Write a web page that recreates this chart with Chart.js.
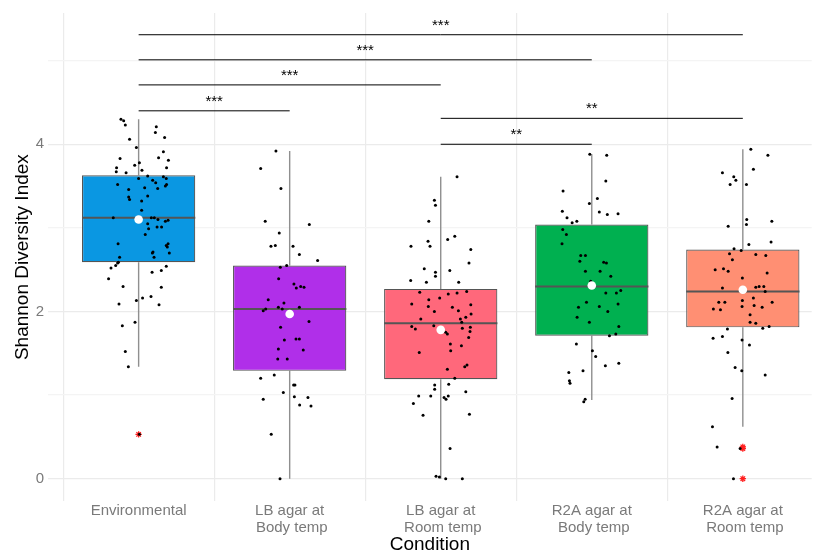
<!DOCTYPE html>
<html>
<head>
<meta charset="utf-8">
<script src="https://cdn.jsdelivr.net/npm/chart.js@4"></script>
<style>
  html, body { margin: 0; padding: 0; background: #fff; }
  #wrap { width: 817px; height: 552px; }
</style>
</head>
<body>
<div id="wrap"><canvas id="shannonChart"></canvas></div>
<script>
const categories = ["Environmental", "LB agar at Body temp", "LB agar at Room temp", "R2A agar at Body temp", "R2A agar at Room temp"];
const xLabels = [["Environmental"], ["LB agar at", " Body temp"], ["LB agar at", " Room temp"], ["R2A agar at", " Body temp"], ["R2A agar at", " Room temp"]];
const yTicks = [0, 1, 2, 3, 4, 5];

// box statistics
const whiskerLow = [1.34, 0.00, 0.00, 0.94, 0.62];
const lowerQ = [2.59, 1.29, 1.19, 1.71, 1.81];
const medians = [3.12, 2.03, 1.86, 2.30, 2.24];
const upperQ = [3.63, 2.55, 2.27, 3.04, 2.74];
const whiskerHigh = [4.30, 3.92, 3.61, 3.88, 3.94];
const means = [3.10, 1.97, 1.78, 2.31, 2.26];
const outliers = [[0.53], [], [], [], [0.38, 0.36, 0.00]];

// jittered samples (value, horizontal jitter in category units)
const envValues = [4.30,4.28,4.23,4.21,4.14,4.06,4.08,3.96,3.91,3.83,3.84,3.81,3.78,3.75,3.72,3.72,3.67,3.69,3.66,3.62,3.61,3.59,3.59,3.57,3.54,3.52,3.52,3.50,3.48,3.47,3.46,3.38,3.37,3.32,3.34,3.21,3.12,3.12,3.12,3.10,3.09,3.08,3.05,3.01,3.01,2.99,2.92,2.81,2.79,2.81,2.77,2.70,2.71,2.70,2.65,2.65,2.59,2.58,2.55,2.52,2.54,2.49,2.47,2.39,2.30,2.29,2.16,2.13,2.18,2.09,2.08,1.87,1.83,1.52,1.34,0.53];
const envJitter = [-0.117,-0.099,-0.088,0.117,0.111,-0.060,0.172,-0.015,0.164,-0.123,0.132,0.197,0.005,-0.026,-0.146,0.185,-0.148,0.022,-0.083,0.060,0.164,0.183,0.000,0.093,0.113,-0.139,0.185,0.177,0.040,0.126,-0.066,0.060,-0.066,0.020,-0.060,0.020,-0.168,0.084,0.104,0.128,0.195,0.177,0.060,0.122,0.152,0.066,0.044,-0.136,0.183,0.195,0.190,0.203,0.095,0.091,0.102,-0.126,-0.134,-0.139,-0.152,-0.183,0.183,0.150,0.089,-0.199,-0.103,0.150,0.026,-0.015,0.082,-0.130,0.135,-0.024,-0.108,-0.088,-0.068,0.005];

const lbBodyValues = [3.92,3.71,3.47,3.08,3.04,2.94,2.78,2.79,2.78,2.68,2.61,2.55,2.53,2.39,2.33,2.30,2.29,2.28,2.14,2.10,2.05,2.05,2.03,2.03,2.01,1.88,1.81,1.66,1.67,1.67,1.55,1.54,1.43,1.43,1.24,1.20,1.12,1.12,1.03,0.98,0.97,0.95,0.88,0.87,0.53,0.00];
const lbBodyJitter = [-0.091,-0.192,-0.058,-0.162,0.130,-0.069,-0.124,-0.095,0.022,0.064,0.185,-0.020,-0.062,-0.073,0.028,0.073,0.095,0.044,-0.142,-0.038,-0.075,0.064,-0.159,-0.049,-0.175,0.128,-0.060,-0.035,0.042,0.064,-0.075,0.090,-0.079,-0.016,-0.102,-0.192,0.026,0.035,-0.042,0.031,0.121,-0.175,0.066,0.141,-0.122,-0.064];

const lbRoomValues = [3.61,3.33,3.27,3.08,2.90,2.86,2.84,2.78,2.78,2.74,2.58,2.51,2.49,2.47,2.42,2.37,2.35,2.35,2.23,2.21,2.22,2.24,2.16,2.14,2.09,2.08,2.06,2.05,2.00,2.01,1.97,1.91,1.93,1.91,1.87,1.83,1.82,1.79,1.80,1.81,1.76,1.75,1.73,1.69,1.61,1.59,1.53,1.51,1.36,1.34,1.31,1.20,1.12,1.13,1.07,1.04,0.99,0.99,0.99,0.97,0.95,0.90,0.77,0.76,0.36,0.03,0.02,0.00,0.00];
const lbRoomJitter = [0.108,-0.042,-0.035,-0.079,0.093,0.046,-0.084,-0.197,-0.071,0.199,0.187,-0.109,0.060,-0.035,-0.035,-0.199,-0.095,0.119,-0.139,0.050,0.108,0.172,-0.007,-0.079,-0.192,0.199,-0.082,0.077,-0.042,0.117,0.201,-0.132,0.166,0.130,0.139,-0.046,-0.192,-0.168,0.143,0.196,0.194,0.033,0.044,0.185,0.064,0.137,0.066,-0.142,0.174,0.159,0.044,0.093,-0.040,0.053,-0.040,0.166,-0.146,-0.066,0.050,0.022,0.035,-0.181,0.190,-0.117,0.062,-0.031,-0.009,0.033,0.143];

const r2aBodyValues = [3.88,3.87,3.56,3.44,3.35,3.29,3.20,3.19,3.17,3.16,3.12,3.08,3.06,2.98,2.92,2.81,2.67,2.67,2.60,2.59,2.58,2.48,2.48,2.42,2.36,2.25,2.22,2.22,2.11,2.09,2.05,2.06,2.00,1.93,1.87,1.82,1.73,1.71,1.61,1.53,1.46,1.38,1.35,1.29,1.27,1.17,1.14,0.95,0.92];
const r2aBodyJitter = [-0.013,0.099,0.093,-0.190,0.037,-0.016,-0.195,0.050,0.174,0.103,-0.164,-0.099,-0.130,-0.192,-0.168,-0.197,-0.073,-0.042,-0.079,0.079,0.097,-0.042,0.055,0.126,-0.007,0.192,0.093,0.163,-0.035,0.174,-0.088,0.050,0.106,-0.097,-0.016,0.179,0.159,0.117,-0.102,0.004,0.026,0.179,0.090,-0.058,-0.152,-0.148,-0.144,-0.044,-0.053];

const r2aRoomValues = [3.94,3.87,3.70,3.66,3.61,3.57,3.52,3.52,3.10,3.08,3.04,3.02,2.83,2.80,2.75,2.73,2.69,2.68,2.67,2.62,2.50,2.51,2.48,2.46,2.40,2.28,2.29,2.30,2.30,2.24,2.13,2.16,2.11,2.11,2.11,2.06,2.07,2.05,2.03,2.02,1.96,1.87,1.86,1.82,1.80,1.79,1.68,1.70,1.66,1.60,1.51,1.33,1.29,1.24,0.96,0.62,0.38,0.36,0.00];
const r2aRoomJitter = [0.053,0.166,0.070,-0.135,-0.060,-0.046,-0.084,0.024,0.026,0.192,0.024,-0.097,0.187,0.040,-0.058,-0.011,-0.088,0.086,0.152,-0.069,-0.183,-0.128,-0.097,0.161,-0.003,-0.135,0.086,0.108,0.139,0.148,-0.003,0.070,-0.159,-0.119,0.194,-0.005,0.075,0.128,-0.195,-0.148,0.048,0.048,0.086,0.174,0.132,-0.102,-0.197,-0.135,-0.005,0.044,-0.099,-0.051,-0.007,0.148,-0.071,-0.201,-0.170,-0.018,-0.062];

// significance brackets
const bracketFrom = [0, 0, 0, 0, 2, 2];
const bracketTo = [4, 3, 2, 1, 4, 3];
const bracketY = [5.31, 5.01, 4.71, 4.40, 4.31, 4.00];
const bracketLabels = ["***", "***", "***", "***", "**", "**"];

const boxColors = ["#0a97e2", "#b02fe9", "#ff687b", "#00b050", "#ff8f73"];

const FONT = "'Liberation Sans', Arial, sans-serif";
const valueGroups = [envValues, lbBodyValues, lbRoomValues, r2aBodyValues, r2aRoomValues];
const jitterGroups = [envJitter, lbBodyJitter, lbRoomJitter, r2aBodyJitter, r2aRoomJitter];

function buildPoints() {
  const pts = [];
  valueGroups.forEach((vals, i) => {
    vals.forEach((v, k) => pts.push({ x: i + jitterGroups[i][k], y: v }));
  });
  return pts;
}

function buildOutliers() {
  const pts = [];
  outliers.forEach((list, i) => list.forEach(v => pts.push({ x: i, y: v })));
  return pts;
}

const boxExtras = {
  id: "boxExtras",
  beforeDatasetsDraw(chart) {
    const { ctx, scales: { x, y } } = chart;
    ctx.save();
    ctx.strokeStyle = "#8f8f8f";
    ctx.lineWidth = 1.4;
    categories.forEach((c, i) => {
      const px = x.getPixelForValue(i);
      ctx.beginPath();
      ctx.moveTo(px, y.getPixelForValue(whiskerHigh[i]));
      ctx.lineTo(px, y.getPixelForValue(upperQ[i]));
      ctx.moveTo(px, y.getPixelForValue(lowerQ[i]));
      ctx.lineTo(px, y.getPixelForValue(whiskerLow[i]));
      ctx.stroke();
    });
    ctx.restore();
  },
  afterDatasetDraw(chart, args) {
    if (args.index !== 0) return;
    const { ctx, scales: { x, y } } = chart;
    ctx.save();
    ctx.strokeStyle = "#555555";
    ctx.lineWidth = 2;
    categories.forEach((c, i) => {
      const py = y.getPixelForValue(medians[i]);
      ctx.beginPath();
      ctx.moveTo(x.getPixelForValue(i - 0.375), py);
      ctx.lineTo(x.getPixelForValue(i + 0.375), py);
      ctx.stroke();
    });
    ctx.restore();
  },
  afterDatasetsDraw(chart) {
    const { ctx, scales: { x, y } } = chart;
    ctx.save();
    ctx.fillStyle = "#000";
    ctx.font = "15px " + FONT;
    ctx.textAlign = "center";
    ctx.textBaseline = "alphabetic";
    bracketLabels.forEach((lab, k) => {
      const px = x.getPixelForValue((bracketFrom[k] + bracketTo[k]) / 2);
      const py = y.getPixelForValue(bracketY[k]);
      ctx.fillText(lab, px, py - 5);
    });
    ctx.restore();
  }
};

const bracketSets = bracketY.map((v, k) => ({
  type: "line",
  data: [{ x: bracketFrom[k], y: v }, { x: bracketTo[k], y: v }],
  borderColor: "#000",
  borderWidth: 1,
  pointRadius: 0,
  order: 1
}));

new Chart(document.getElementById("shannonChart"), {
  type: "scatter",
  data: {
    datasets: [
      {
        type: "bar",
        data: categories.map((c, i) => ({ x: i, y: [lowerQ[i], upperQ[i]] })),
        backgroundColor: boxColors,
        borderColor: "#555555",
        borderWidth: 1.2,
        borderSkipped: false,
        barPercentage: 0.75,
        categoryPercentage: 1,
        order: 6
      },
      {
        data: buildOutliers(),
        pointStyle: "star",
        pointRadius: 3.2,
        borderColor: "#ff2020",
        borderWidth: 1.3,
        backgroundColor: "#ff2020",
        order: 5
      },
      {
        data: buildPoints(),
        pointRadius: 1.5,
        backgroundColor: "#000",
        borderWidth: 0,
        order: 4
      },
      {
        data: means.map((m, i) => ({ x: i, y: m })),
        pointRadius: 4.3,
        backgroundColor: "#fff",
        borderWidth: 0,
        order: 3
      },
      ...bracketSets
    ]
  },
  plugins: [boxExtras],
  options: {
    responsive: true,
    maintainAspectRatio: false,
    animation: false,
    layout: { padding: { top: 13, left: 11, right: 2, bottom: 0 } },
    plugins: {
      legend: { display: false },
      tooltip: { enabled: false }
    },
    scales: {
      x: {
        type: "linear",
        min: -0.6,
        max: 4.456,
        offset: false,
        border: { display: false },
        grid: { color: "#ebebeb", lineWidth: 1.2, drawTicks: false },
        afterBuildTicks: axis => { axis.ticks = categories.map((c, i) => ({ value: i })); },
        afterFit: axis => { axis.paddingLeft = 0; axis.paddingRight = 0; },
        ticks: {
          autoSkip: false,
          maxRotation: 0,
          padding: 1,
          color: "#7a7a7a",
          font: { family: FONT, size: 15, lineHeight: 1.15 },
          callback: v => xLabels[v]
        },
        title: {
          display: true,
          text: "Condition",
          color: "#000",
          padding: 0,
          font: { family: FONT, size: 19, lineHeight: 0.75 }
        }
      },
      y: {
        min: -0.27,
        max: 5.57,
        border: { display: false },
        grid: {
          color: ctx => (ctx.tick && ctx.tick.value % 2 === 0) ? "#ebebeb" : "#f4f4f4",
          lineWidth: 1.2,
          drawTicks: false
        },
        afterBuildTicks: axis => { axis.ticks = yTicks.map(v => ({ value: v })); },
        afterFit: axis => { axis.width = 37; },
        ticks: {
          padding: 4,
          color: "#7a7a7a",
          font: { family: FONT, size: 15 },
          callback: v => (v % 2 === 0 ? String(v) : "")
        },
        title: {
          display: true,
          text: "Shannon Diversity Index",
          color: "#000",
          padding: { top: 0, bottom: 4 },
          font: { family: FONT, size: 19 }
        }
      }
    }
  }
});
</script>
</body>
</html>
